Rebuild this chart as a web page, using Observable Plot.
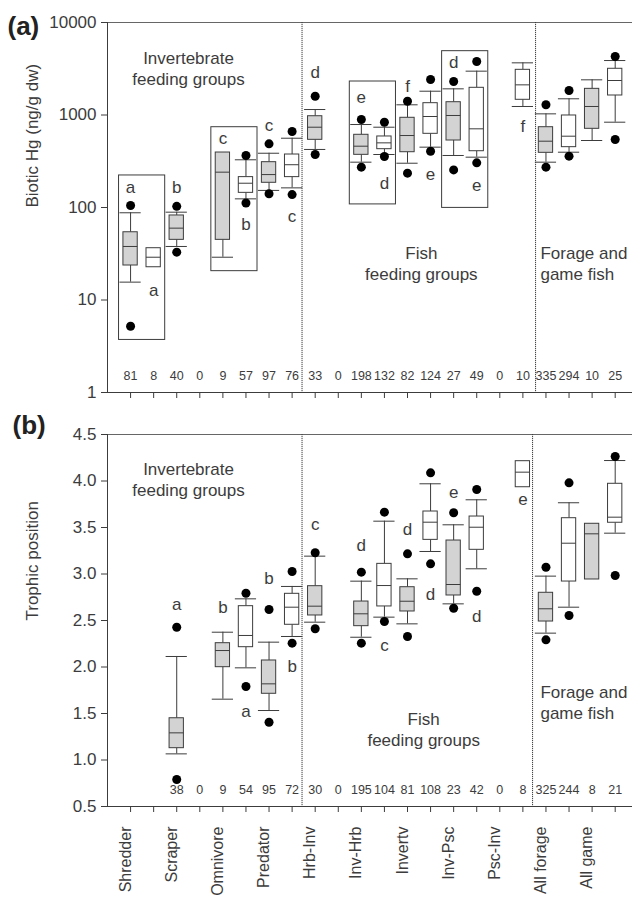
<!DOCTYPE html>
<html><head><meta charset="utf-8">
<script src="https://cdn.jsdelivr.net/npm/d3@7"></script>
<script src="https://cdn.jsdelivr.net/npm/@observablehq/plot@0.6"></script>
<style>body{margin:0;background:#fff;} #chart svg{display:block;}</style>
</head><body><div id="chart"></div>
<script>
// Categories (each has two slots: first = gray boxes, second = white boxes)
const categories = ["Shredder","Scraper","Omnivore","Predator","Hrb-Inv","Inv-Hrb","Invertv","Inv-Psc","Psc-Inv","All forage","All game"];

// ---- Panel (a): Biotic Hg (ng/g dw), 22 slots ----
const hgN      = [81, 8, 40, 0, 9, 57, 97, 76, 33, 0, 198, 132, 82, 124, 27, 49, 0, 10, 335, 294, 10, 25];
const hgLo     = [15.6, null, 37.9, null, 29, 124, 153, 163, 424, null, 309, 374, 301, 449, 365, 350, null, 1236, 309, 396, 530, 836];
const hgQ1     = [23.6, 22.6, 44.7, null, 44.7, 144, 185, 213, 539, null, 371, 427, 396, 626, 530, 406, null, 1460, 390, 449, 709, 1625];
const hgMed    = [37.9, 29, 59.8, null, 241, 183, 227, 290, 738, null, 460, 500, 600, 963, 988, 709, null, 2118, 521, 590, 1236, 2360];
const hgQ3     = [54, 36.3, 82, null, 393, 213, 309, 374, 970, null, 611, 586, 933, 1342, 1375, 1968, null, 3079, 738, 988, 1918, 3160];
const hgHi     = [87.7, null, 89, null, null, 328, 386, 561, 1146, null, 789, 738, 1289, 1808, 1918, 2978, null, 3664, 1029, 1497, 2401, 3880];
const hgOutLo  = [5.2, null, 32.9, null, null, 112, 141, 138, 374, null, 273, 356, 235, 406, 255, 304, null, null, 273, 359, null, 543];
const hgOutHi  = [105, null, 103, null, null, 365, 488, 663, 1597, null, 894, 836, 1410, 2420, 2302, 3788, null, null, 1289, 1841, null, 4289];
const hgTicks  = [1, 10, 100, 1000, 10000];
const hgLetterPos = [1, 2, 3, 5, 6, 7, 8, 9, 11, 12, 13, 14, 15, 16, 18];
const hgLetter    = ["a","a","b","c","b","c","c","d","e","d","f","e","d","e","f"];
const hgLetterY   = [164, 12.7, 164, 557, 65.5, 770, 80, 2900, 1558, 183, 2033, 226, 3667, 173, 751];
const hgFrameX1 = [0.5, 4.5, 10.5, 14.5];
const hgFrameX2 = [2.5, 6.5, 12.5, 16.5];
const hgFrameLo = [3.7, 20.5, 108, 99];
const hgFrameHi = [222, 738, 2302, 4898];

// ---- Panel (b): Trophic position, 22 slots ----
const tpN      = [null, null, 38, 0, 9, 54, 95, 72, 30, 0, 195, 104, 81, 108, 23, 42, 0, 8, 325, 244, 8, 21];
const tpLo     = [null,null,1.066,null,1.654,1.991,1.532,2.328,2.482,null,2.32,2.536,2.464,3.242,2.679,3.056,null,null,2.364,2.643,null,3.439];
const tpQ1     = [null,null,1.127,null,1.998,2.213,1.712,2.454,2.554,null,2.439,2.651,2.597,3.367,2.769,3.26,null,3.933,2.489,2.919,2.941,3.551];
const tpMed    = [null,null,1.292,null,2.177,2.339,1.819,2.643,2.654,null,2.572,2.876,2.707,3.557,2.887,3.503,null,4.095,2.626,3.331,3.432,3.611];
const tpQ3     = [null,null,1.449,null,2.256,2.654,2.07,2.787,2.869,null,2.704,3.109,2.858,3.672,3.36,3.618,null,4.213,2.798,3.6,3.54,3.97];
const tpHi     = [null,null,2.113,null,2.374,2.733,2.267,2.866,3.192,null,2.923,3.568,2.948,3.97,3.529,3.798,null,null,2.977,3.766,null,4.22];
const tpOutLo  = [null,null,0.79,null,null,1.79,1.406,2.256,2.411,null,2.256,2.489,2.328,3.109,2.632,2.815,null,null,2.292,2.554,null,2.984];
const tpOutHi  = [null,null,2.428,null,null,2.793,2.618,3.027,3.228,null,3.02,3.665,3.217,4.088,3.658,3.909,null,null,3.073,3.98,null,4.263];
const tpTicks  = [0.5, 1.0, 1.5, 2.0, 2.5, 3.0, 3.5, 4.0, 4.5];
const tpLetterPos = [3, 5, 6, 7, 8, 9, 11, 12, 13, 14, 15, 16, 18];
const tpLetter    = ["a","b","a","b","b","c","d","c","d","d","e","d","e"];
const tpLetterY   = [2.672, 2.643, 1.522, 2.952, 2.005, 3.529, 3.306, 2.231, 3.475, 2.78, 3.873, 2.546, 3.798];

const FONT = "'Liberation Sans', Arial, Helvetica, sans-serif";
const INK = "#3c3c3c";
const GRAYFILL = "#d3d3d3";
const FS = 17;
const slotPositions = hgN.map((_, i) => i + 1);
const BOX = 0.31, CAP = 0.46;

function makeRows(n, lo, q1, med, q3, hi, oLo, oHi) {
  return n.map((v, i) => ({pos: i + 1, n: v, lo: lo[i], q1: q1[i], med: med[i], q3: q3[i], hi: hi[i], oLo: oLo[i], oHi: oHi[i], gray: i % 2 === 0}));
}

function boxMarks(rows) {
  const b = rows.filter(d => d.med != null);
  return [
    Plot.ruleX(b.filter(d => d.lo != null), {x: "pos", y1: "lo", y2: "q1", stroke: INK}),
    Plot.ruleX(b.filter(d => d.hi != null), {x: "pos", y1: "q3", y2: "hi", stroke: INK}),
    Plot.ruleY(b.filter(d => d.lo != null), {y: "lo", x1: d => d.pos - CAP, x2: d => d.pos + CAP, stroke: INK}),
    Plot.ruleY(b.filter(d => d.hi != null), {y: "hi", x1: d => d.pos - CAP, x2: d => d.pos + CAP, stroke: INK}),
    Plot.rect(b.filter(d => d.gray), {x1: d => d.pos - BOX, x2: d => d.pos + BOX, y1: "q1", y2: "q3", fill: GRAYFILL, stroke: INK}),
    Plot.rect(b.filter(d => !d.gray), {x1: d => d.pos - BOX, x2: d => d.pos + BOX, y1: "q1", y2: "q3", fill: "white", stroke: INK}),
    Plot.ruleY(b, {y: "med", x1: d => d.pos - BOX, x2: d => d.pos + BOX, stroke: INK}),
    Plot.dot(b.filter(d => d.oLo != null), {x: "pos", y: "oLo", r: 4.5, fill: "#000", stroke: "none"}),
    Plot.dot(b.filter(d => d.oHi != null), {x: "pos", y: "oHi", r: 4.5, fill: "#000", stroke: "none"})
  ];
}

const style = {fontFamily: FONT, fontSize: FS + "px", color: INK, background: "white", overflow: "visible"};
const xDomain = [0, 22.75];

const rowsA = makeRows(hgN, hgLo, hgQ1, hgMed, hgQ3, hgHi, hgOutLo, hgOutHi);
const lettersA = hgLetter.map((t, i) => ({t, x: hgLetterPos[i], y: hgLetterY[i]}));
const framesA = hgFrameX1.map((x1, i) => ({x1, x2: hgFrameX2[i], y1: hgFrameLo[i], y2: hgFrameHi[i]}));

const plotA = Plot.plot({
  width: 632, height: 410, marginTop: 22, marginBottom: 18, marginLeft: 107, marginRight: 0,
  style,
  x: {domain: xDomain, axis: null},
  y: {type: "log", domain: [1, 10000], axis: null},
  marks: [
    Plot.ruleY([10000], {stroke: "#666"}),
    Plot.ruleY([1], {stroke: INK}),
    Plot.ruleX([0], {stroke: INK}),
    Plot.ruleX([8.43, 18.55], {stroke: INK, strokeDasharray: "1.2,0.8"}),
    Plot.axisY(hgTicks, {tickFormat: d => String(d), tickSize: 6, tickPadding: 5, label: null, fontSize: FS, stroke: INK}),
    Plot.axisX(slotPositions, {tickSize: 6, tickFormat: () => "", label: null, stroke: INK}),
    Plot.rect(framesA, {x1: "x1", x2: "x2", y1: "y1", y2: "y2", fill: "none", stroke: INK}),
    ...boxMarks(rowsA),
    Plot.text(lettersA, {x: "x", y: "y", text: "t", fontSize: FS}),
    Plot.text(rowsA, {x: "pos", text: d => String(d.n), frameAnchor: "bottom", dy: -13, fontSize: 12.5}),
    Plot.text(["Invertebrate\nfeeding groups"], {x: 3.51, y: 3221, lineHeight: 1.25, fontSize: FS}),
    Plot.text(["Fish\nfeeding groups"], {x: 13.6, y: 25.1, lineHeight: 1.25, fontSize: FS}),
    Plot.text(["Forage and\ngame fish"], {x: 18.76, y: 25.1, lineHeight: 1.25, textAnchor: "start", fontSize: FS}),
    Plot.text(["Biotic Hg (ng/g dw)"], {frameAnchor: "left", dx: -75, rotate: -90, fontSize: FS}),
    Plot.text(["(a)"], {frameAnchor: "top-left", dx: -100, dy: -6, textAnchor: "start", fontWeight: "bold", fontSize: 26, fill: "#222"})
  ]
});

const rowsB = makeRows(tpN, tpLo, tpQ1, tpMed, tpQ3, tpHi, tpOutLo, tpOutHi);
const lettersB = tpLetter.map((t, i) => ({t, x: tpLetterPos[i], y: tpLetterY[i]}));
const catRows = categories.map((c, i) => ({c, x: 2 * i + 1}));

const plotB = Plot.plot({
  width: 632, height: 489, marginTop: 24, marginBottom: 93, marginLeft: 107, marginRight: 0,
  style,
  x: {domain: xDomain, axis: null},
  y: {domain: [0.5, 4.5], axis: null},
  marks: [
    Plot.ruleY([4.5], {stroke: "#666"}),
    Plot.ruleY([0.5], {stroke: INK}),
    Plot.ruleX([0], {stroke: INK}),
    Plot.ruleX([8.43, 18.42], {stroke: INK, strokeDasharray: "1.2,0.8"}),
    Plot.axisY(tpTicks, {tickFormat: d3.format(".1f"), tickSize: 6, tickPadding: 5, label: null, fontSize: FS, stroke: INK}),
    Plot.axisX(slotPositions, {tickSize: 6, tickFormat: () => "", label: null, stroke: INK}),
    ...boxMarks(rowsB),
    Plot.text(lettersB, {x: "x", y: "y", text: "t", fontSize: FS}),
    Plot.text(rowsB.filter(d => d.n != null), {x: "pos", text: d => String(d.n), frameAnchor: "bottom", dy: -13, fontSize: 12.5}),
    Plot.text(catRows, {x: "x", text: "c", frameAnchor: "bottom", dy: 20, rotate: -90, textAnchor: "end", fontSize: 16}),
    Plot.text(["Invertebrate\nfeeding groups"], {x: 3.51, y: 4.021, lineHeight: 1.25, fontSize: FS}),
    Plot.text(["Fish\nfeeding groups"], {x: 13.7, y: 1.339, lineHeight: 1.25, fontSize: FS}),
    Plot.text(["Forage and\ngame fish"], {x: 18.76, y: 1.629, lineHeight: 1.25, textAnchor: "start", fontSize: FS}),
    Plot.text(["Trophic position"], {frameAnchor: "left", dx: -75, rotate: -90, fontSize: FS}),
    Plot.text(["(b)"], {frameAnchor: "top-left", dx: -95, dy: -19, textAnchor: "start", fontWeight: "bold", fontSize: 26, fill: "#222"})
  ]
});

document.getElementById("chart").append(plotA, plotB);
</script>
</body></html>
